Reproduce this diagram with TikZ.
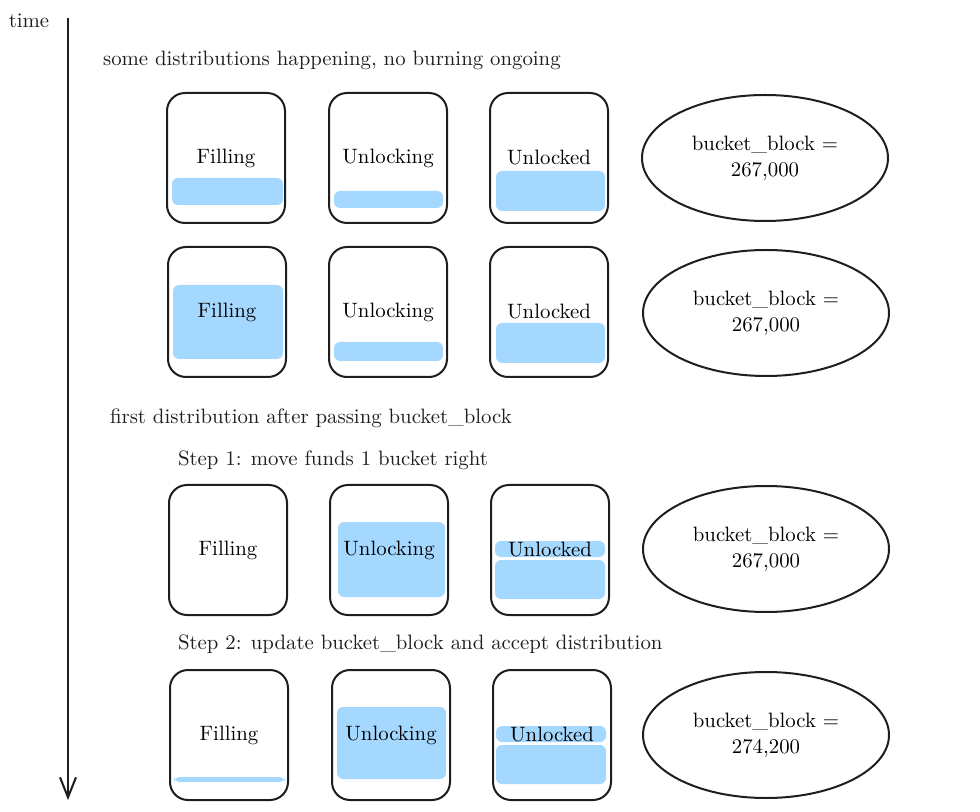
\documentclass[tikz,border=0pt]{standalone}
\usetikzlibrary{shapes.geometric,arrows.meta}
\definecolor{water}{HTML}{A5D8FF}
\definecolor{ink}{HTML}{1E1E1E}
\tikzset{
  bucket/.style={draw=ink, line width=1pt, rounded corners=9pt, minimum width=59pt, minimum height=65pt},
  level/.style={fill=water, rounded corners=3pt},
  blk/.style={draw=ink, line width=1pt, ellipse, minimum width=123pt, minimum height=63pt, align=center},
  note/.style={anchor=west, text=ink}
}
\begin{document}
\begin{tikzpicture}[x=0.5pt,y=-0.5pt,font=\fontsize{10.4}{13}\selectfont]
\useasboundingbox (0,0) rectangle (980,812);
%\draw[step=50,gray!30](0,0) grid (980,812);
\node[text=ink] (time) at (29,21) {time};
\coordinate (t0) at (68,18);
\coordinate (t1) at (68,800);
\draw[ink, line width=1pt, -{Straight Barb[length=10pt,width=8pt]}] (t0) -- (t1);

\node[note] (h1) at (96,60) {some distributions happening, no burning ongoing};
\node[note] (h2) at (103,418) {first distribution after passing bucket\_block};
\node[note] (h3) at (171,460) {Step 1: move funds 1 bucket right};
\node[note] (h4) at (171,644) {Step 2: update bucket\_block and accept distribution};

% fill levels
\fill[level] (172,178) rectangle (283,205) (334,191) rectangle (443,208) (496,171) rectangle (605,211);
\fill[level] (173,285) rectangle (283,359) (334,342) rectangle (443,361) (496,323) rectangle (605,363);
\fill[level] (338,522) rectangle (445,597) (495,541) rectangle (605,557) (495,560) rectangle (605,599);
\fill[level] (174,777) rectangle (285,782) (337,707) rectangle (446,779) (496,726) rectangle (606,742) (496,745) rectangle (606,784);

\node[bucket] (fa) at (226,158) {Filling};
\node[bucket] (ua) at (388,158) {Unlocking};
\node[bucket] (da) at (549,158) {Unlocked};
\node[blk] (ba) at (765,158) {bucket\_block =\\267,000};

\node[bucket] (fb) at (227,312) {Filling};
\node[bucket] (ub) at (388,312) {Unlocking};
\node[bucket] (db) at (549,312) {Unlocked};
\node[blk] (bb) at (766,313) {bucket\_block =\\267,000};

\node[bucket] (fc) at (228,550) {Filling};
\node[bucket] (uc) at (389,550) {Unlocking};
\node[bucket] (dc) at (550,550) {Unlocked};
\node[blk] (bc) at (766,549) {bucket\_block =\\267,000};

\node[bucket] (fd) at (229,735) {Filling};
\node[bucket] (ud) at (391,735) {Unlocking};
\node[bucket] (dd) at (552,735) {Unlocked};
\node[blk] (bd) at (766,735) {bucket\_block =\\274,200};
\end{tikzpicture}
\end{document}
